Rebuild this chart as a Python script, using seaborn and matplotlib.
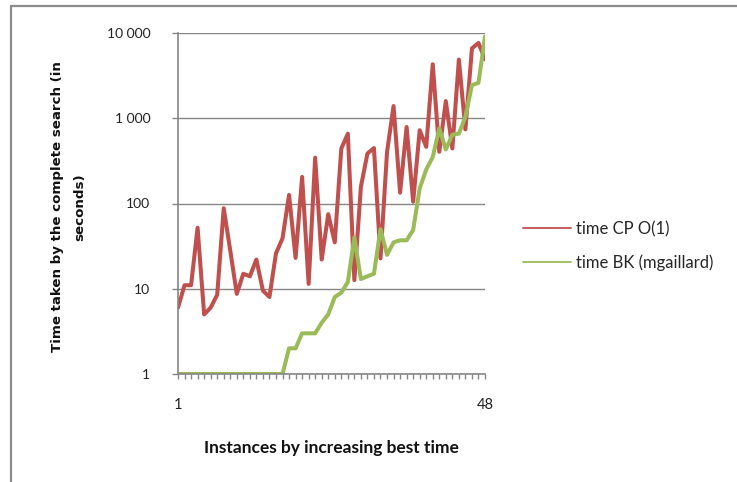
import numpy as np
import pandas as pd
import matplotlib
matplotlib.use("Agg")
import matplotlib.pyplot as plt
from matplotlib.lines import Line2D
from matplotlib.ticker import FixedLocator, FuncFormatter, NullLocator, MultipleLocator
import seaborn as sns

# instances 1..48, sorted by best time
instances = list(range(1, 49))
time_cp = [6, 11, 11, 52, 5, 6, 8.5, 88, 28, 8.7, 15, 14, 22, 9.5, 8, 26,
           39, 126, 23, 205, 11.4, 345, 22, 75, 35, 440, 660, 12.6, 157, 386,
           447, 22.7, 400, 1390, 134, 790, 105, 724, 462, 4300, 404, 1590, 442,
           4880, 740, 6600, 7650, 4900]
time_bk = [1, 1, 1, 1, 1, 1, 1, 1, 1, 1, 1, 1, 1, 1, 1, 1, 1, 2, 2, 3, 3, 3,
           4, 5, 8, 9, 12, 40, 13, 14, 15, 50, 25, 35, 37, 37, 49, 150, 250,
           350, 760, 430, 640, 660, 1040, 2450, 2600, 9100]
series_names = ["time CP O(1)", "time BK (mgaillard)"]
y_ticks = [1, 10, 100, 1000, 10000]
x_ticks = [1, 48]

df = pd.DataFrame({
    "instance": instances * 2,
    "time": time_cp + time_bk,
    "series": [series_names[0]] * 48 + [series_names[1]] * 48,
})

sns.set_theme(style="white")
plt.rcParams['font.family'] = ['Lato', 'DejaVu Sans']

colors = {series_names[0]: "#C0504D", series_names[1]: "#9BBB59"}
grey = "#868686"

fig = plt.figure(figsize=(7.37, 4.82), dpi=100)
ax = fig.add_axes([178 / 737, 1 - 374 / 482, (485 - 178) / 737, (374 - 33) / 482])

sns.lineplot(data=df, x="instance", y="time", hue="series", palette=colors,
             linewidth=2.9, ax=ax, legend=False)

ax.set_yscale("log")
ax.set_ylim(1, 10000)
ax.set_xlim(1, 48)

ax.yaxis.set_major_locator(FixedLocator(y_ticks))
ax.yaxis.set_minor_locator(NullLocator())
ax.yaxis.set_major_formatter(FuncFormatter(lambda v, p: f"{int(v):,}".replace(",", " ")))
ax.xaxis.set_major_locator(FixedLocator(x_ticks))
ax.xaxis.set_minor_locator(MultipleLocator(1))

ax.grid(axis="y", color=grey, linewidth=1.0)
ax.grid(axis="x", visible=False)
for s in ["top", "right"]:
    ax.spines[s].set_visible(False)
for s in ["left", "bottom"]:
    ax.spines[s].set_color(grey)
    ax.spines[s].set_linewidth(1.2)

ax.tick_params(axis="y", which="major", direction="out", length=4, width=1,
               color=grey, pad=16, labelsize=10, left=True, labelcolor="#222222")
ax.tick_params(axis="x", which="both", direction="out", length=3.5, width=1,
               color=grey, bottom=True)
ax.tick_params(axis="x", which="major", pad=14, labelsize=10.5, labelcolor="#222222")

ax.set_xlabel("Instances by increasing best time", fontsize=12.5, fontweight="bold",
              labelpad=20, color="#111111")
ax.set_ylabel("Time taken by the complete search (in\nseconds)", fontsize=9.6,
              fontweight="bold", family="DejaVu Sans", linespacing=1.85,
              color="#111111")
ax.yaxis.set_label_coords(-0.30, 0.49)

handles = [Line2D([0], [0], color=colors[n], linewidth=1.3) for n in series_names]
fig.legend(handles, series_names, loc="center left",
           bbox_to_anchor=(508 / 737, 1 - 246 / 482), frameon=False,
           fontsize=12, handlelength=2.9, handletextpad=0.3, labelspacing=1.05)

# outer chart frame
fig.add_artist(Line2D([10.5 / 737, 10.5 / 737], [0, 1 - 6 / 482],
                      transform=fig.transFigure, color="#8c8c8c", linewidth=1.6))
fig.add_artist(Line2D([10.5 / 737, 1], [1 - 6 / 482, 1 - 6 / 482],
                      transform=fig.transFigure, color="#8c8c8c", linewidth=1.6))

fig.savefig("out.png", dpi=100)
